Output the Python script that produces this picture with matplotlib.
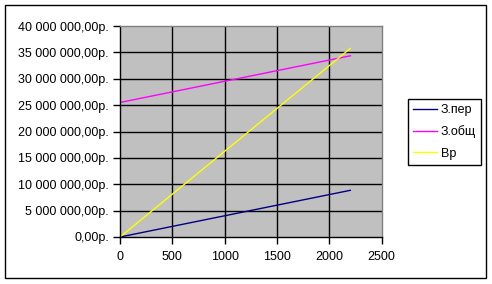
import matplotlib
matplotlib.use("Agg")
import matplotlib.pyplot as plt
from matplotlib.ticker import FuncFormatter, MultipleLocator
from matplotlib.patches import Rectangle

plt.rcParams['font.family'] = ['Liberation Sans', 'DejaVu Sans']

x = [0, 2200]
z_per = [0, 8.85e6]
z_obsh = [25.5e6, 34.35e6]
vr = [0, 35.75e6]
labels = ["З.пер", "З.общ", "Вр"]
colors = ["#000080", "#FF00FF", "#FFFF00"]

fig = plt.figure(figsize=(4.92, 2.84), dpi=100)
fig.patch.set_facecolor("white")
fig.patches.append(Rectangle((5/492, 1-278/284), 481/492, 273/284, transform=fig.transFigure,
                             fill=False, edgecolor="black", linewidth=1.0))

ax = fig.add_axes([120/492, 1-237/284, 261.7/492, 211/284])
ax.set_facecolor("#C0C0C0")
for ys, lab, c in zip([z_per, z_obsh, vr], labels, colors):
    ax.plot(x, ys, color=c, linewidth=1.0, label=lab)

ax.set_xlim(0, 2500)
ax.set_ylim(0, 40e6)
ax.xaxis.set_major_locator(MultipleLocator(500))
ax.yaxis.set_major_locator(MultipleLocator(5e6))

def fmt(v, pos):
    s = f"{v:,.2f}".replace(",", " ").replace(".", ",")
    return s + "р."
ax.yaxis.set_major_formatter(FuncFormatter(fmt))

# inner gridlines only (edges are the plot-area border)
for yv in range(5, 40, 5):
    ax.axhline(yv * 1e6, color="black", linewidth=1.0, zorder=0.5)
for xv in range(500, 2500, 500):
    ax.axvline(xv, color="black", linewidth=1.0, zorder=0.5)

for s in ["top", "right"]:
    ax.spines[s].set_color("#808080")
    ax.spines[s].set_linewidth(1.0)
for s in ["left", "bottom"]:
    ax.spines[s].set_color("black")
    ax.spines[s].set_linewidth(1.0)
ax.tick_params(direction="out", length=5, width=1, labelsize=9, colors="black", pad=3)
ax.tick_params(axis="x", pad=5)

leg = fig.legend(loc="upper left", bbox_to_anchor=(408/492, 1-99/284), fontsize=9,
                 frameon=True, fancybox=False, edgecolor="black", framealpha=1,
                 handlelength=1.95, handletextpad=0.25, labelspacing=0.75, borderpad=0.4,
                 borderaxespad=0)
leg.get_frame().set_linewidth(1.0)

fig.savefig("out.png", dpi=100)
